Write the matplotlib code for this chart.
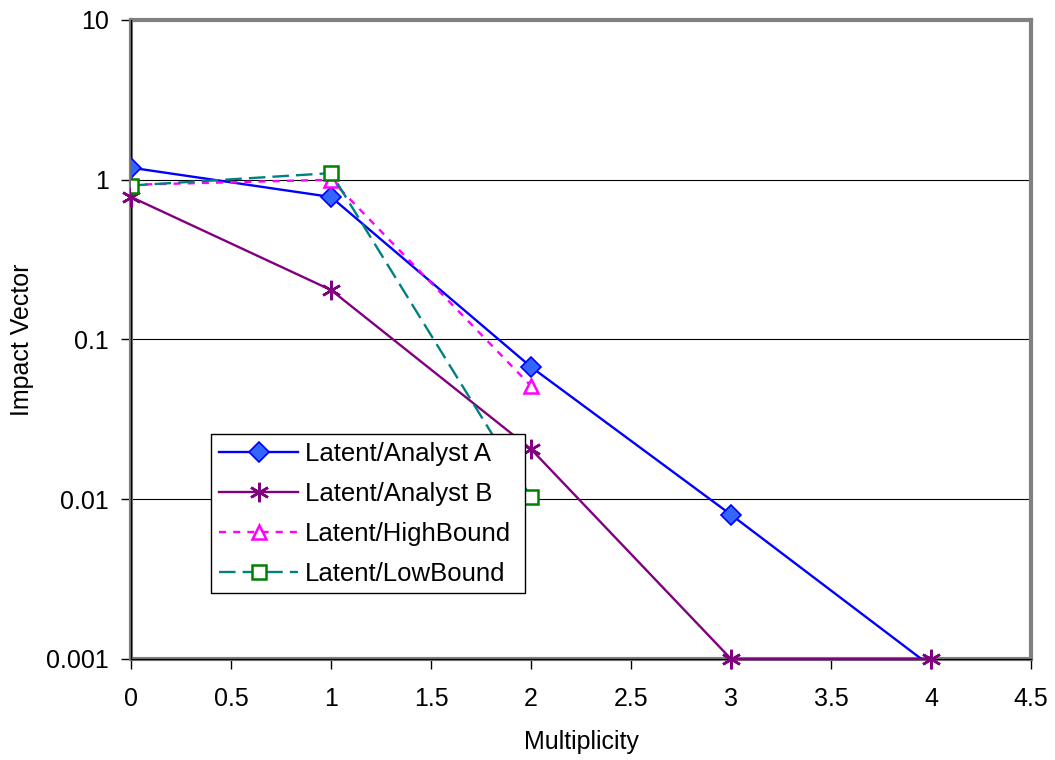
import matplotlib.pyplot as plt
from matplotlib.ticker import NullLocator

plt.rcParams['font.family'] = ['Liberation Sans', 'DejaVu Sans']

# Impact vector by multiplicity for each latent estimate
mult = [0, 1, 2, 3, 4]
analyst_a = [1.19, 0.78, 0.0673, 0.0080, 0.0009]
analyst_b = [0.78, 0.204, 0.0206, 0.001, 0.001]
bound_x = [0, 1, 2]
high_bound = [0.93, 1.0, 0.0512]
low_bound = [0.92, 1.10, 0.0103]

xticks = [0, 0.5, 1, 1.5, 2, 2.5, 3, 3.5, 4, 4.5]
xtick_labels = ['0', '0.5', '1', '1.5', '2', '2.5', '3', '3.5', '4', '4.5']
yticks = [0.001, 0.01, 0.1, 1, 10]
ytick_labels = ['0.001', '0.01', '0.1', '1', '10']

fig = plt.figure(figsize=(10.55, 7.6), dpi=100)
ax = fig.add_axes([0.1242, 0.1329, 0.9773 - 0.1242, 0.9737 - 0.1329])

ax.set_yscale('log')
ax.set_xlim(0, 4.5)
ax.set_ylim(0.001, 10)

# horizontal gridlines at the decades
for y in yticks[1:-1]:
    ax.axhline(y, color='black', lw=0.8, zorder=1)

ax.plot(mult, analyst_a, color='#0000FF', lw=1.7, marker='D', ms=10,
        markerfacecolor='#3366FF', markeredgecolor='#0000FF', mew=1.2,
        label='Latent/Analyst A', zorder=4)
ax.plot(mult, analyst_b, color='#800080', lw=1.7, marker=(6, 2, 0), ms=14,
        markeredgecolor='#800080', mew=1.8, label='Latent/Analyst B',
        zorder=4, clip_on=False)
ax.plot(bound_x, high_bound, color='#FF00FF', lw=1.7, ls=(0, (3, 3)),
        marker='^', ms=10, markerfacecolor='white', markeredgecolor='#FF00FF',
        mew=1.8, label='Latent/HighBound', zorder=4)
ax.plot(bound_x, low_bound, color='#008080', lw=1.7, ls=(0, (7, 3)),
        marker='s', ms=10, markerfacecolor='white', markeredgecolor='#008000',
        mew=1.8, label='Latent/LowBound', zorder=4)

# gray plot-area border with the black axis lines on left and bottom
for side in ['left', 'right', 'top', 'bottom']:
    ax.spines[side].set_color('#808080')
    ax.spines[side].set_linewidth(3)
    ax.spines[side].set_zorder(3)
ax.axvline(0, color='black', lw=0.9, zorder=3.5, clip_on=False)
ax.axhline(0.001, color='black', lw=0.9, zorder=3.5, clip_on=False)

ax.set_xticks(xticks)
ax.set_xticklabels(xtick_labels)
ax.set_yticks(yticks)
ax.set_yticklabels(ytick_labels)
ax.yaxis.set_minor_locator(NullLocator())
ax.tick_params(direction='out', length=7, width=1, color='black',
               labelsize=18)
ax.tick_params(axis='x', pad=13)
ax.tick_params(axis='y', pad=9)

ax.set_xlabel('Multiplicity', fontsize=18, labelpad=14)
ax.set_ylabel('Impact Vector', fontsize=18, labelpad=9)

leg = ax.legend(loc='upper left', bbox_to_anchor=(0.089, 0.352, 0.349, 0),
                mode='expand', fontsize=18.5, frameon=True, fancybox=False,
                edgecolor='black', framealpha=1, borderpad=0.3,
                handlelength=3.1, handletextpad=0.25, labelspacing=0.62,
                borderaxespad=0)
leg.get_frame().set_linewidth(1)
leg.set_zorder(5)

fig.savefig('out.png', dpi=100)
